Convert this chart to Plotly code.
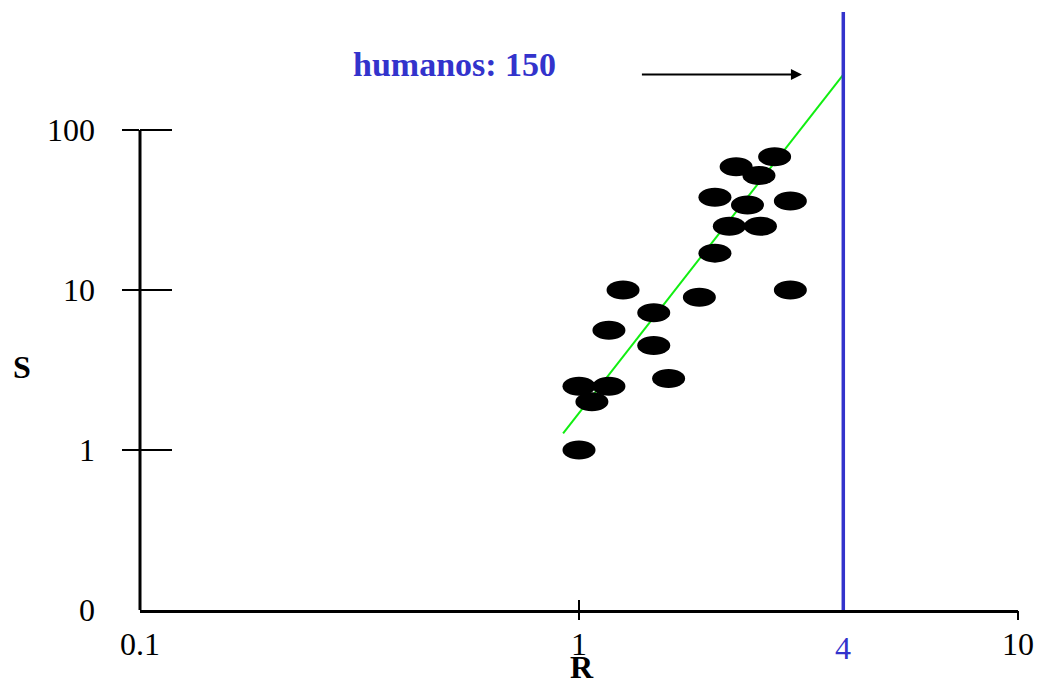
import math
import plotly.graph_objects as go

# ---- data ----
R = [2.79, 2.28, 2.57, 2.04, 2.42, 3.03, 2.20, 2.59, 2.04, 1.26,
     3.03, 1.88, 1.48, 1.17, 1.48, 1.60, 1.00, 1.17, 1.07, 1.00]
S = [68, 59, 52, 38, 34, 36, 25, 25, 17, 10,
     10, 9.0, 7.2, 5.6, 4.5, 2.8, 2.5, 2.5, 2.0, 1.0]

fit_R = [0.92, 4.0]
fit_S = [1.27, 222]

human_R = 4
human_label = "humanos: 150"
arrow_R = [1.38, 3.22]
arrow_S = 222

x_tickvals = [0.1, 1, 10]
x_ticktext = ["0.1", "1", "10"]
x_marks = [1, 10]
y_tickvals = [0.1, 1, 10, 100]
y_ticktext = ["0", "1", "10", "100"]
y_marks = [1, 10, 100]

X_RANGE = [-1, 1]
Y_RANGE = [-1, 2.7375]

# layout geometry (page pixels); the page body adds an 8 px margin all round
OFF = 8
PAGE_W, PAGE_H = 1042, 695
W, H = PAGE_W - 2 * OFF, PAGE_H - 2 * OFF
ML, MT = 140 - OFF, 12 - OFF
MR = (W + OFF) - 1018
MB = (H + OFF) - 610
PW, PH = W - ML - MR, H - MT - MB
DOT_W, DOT_H = 33, 19

FONT = "Liberation Serif"
BLUE = "#3333CC"
GREEN = "#11EE11"

fig = go.Figure()

# points (underlying markers)
fig.add_trace(go.Scatter(x=R, y=S, mode="markers",
                         marker=dict(color="black", size=14),
                         showlegend=False, hoverinfo="x+y"))
# regression line
fig.add_trace(go.Scatter(x=fit_R, y=fit_S, mode="lines",
                         line=dict(color=GREEN, width=2),
                         showlegend=False, hoverinfo="skip"))
# human group line
fig.add_trace(go.Scatter(x=[human_R, human_R],
                         y=[10 ** Y_RANGE[0], 10 ** Y_RANGE[1]],
                         mode="lines", line=dict(color=BLUE, width=3.5),
                         showlegend=False, hoverinfo="skip"))
# empty traces for the tick-only overlay axes
for xa, ya in [("x2", "y"), ("x3", "y"), ("x", "y2"), ("x", "y3")]:
    fig.add_trace(go.Scatter(x=[], y=[], xaxis=xa, yaxis=ya,
                             showlegend=False, hoverinfo="skip"))

# elliptical point marks: half-size expressed as a factor on the log axes
kx = 10 ** ((DOT_W / 2) * (X_RANGE[1] - X_RANGE[0]) / PW)
ky = 10 ** ((DOT_H / 2) * (Y_RANGE[1] - Y_RANGE[0]) / PH)
shapes = []
for r, s in zip(R, S):
    shapes.append(dict(type="circle", xref="x", yref="y",
                       x0=r / kx, x1=r * kx, y0=s / ky, y1=s * ky,
                       fillcolor="black", line=dict(width=0), layer="above"))
# y axis line up to the top tick
ytop = (math.log10(max(y_marks)) - Y_RANGE[0]) / (Y_RANGE[1] - Y_RANGE[0])
shapes.append(dict(type="line", xref="paper", yref="paper",
                   x0=0, x1=0, y0=0, y1=ytop,
                   line=dict(color="black", width=3), layer="above"))

tick_font = dict(family=FONT, size=32, color="black")
common = dict(showgrid=False, zeroline=False, automargin=False)

fig.update_layout(
    width=W, height=H,
    margin=dict(l=ML, r=MR, t=MT, b=MB, autoexpand=False),
    paper_bgcolor="white", plot_bgcolor="white",
    showlegend=False,
    shapes=shapes,
    xaxis=dict(type="log", range=X_RANGE, tickmode="array",
               tickvals=x_tickvals, ticktext=x_ticktext, ticks="",
               ticklabelstandoff=4,
               showline=True, linewidth=3, linecolor="black",
               tickfont=tick_font, **common),
    xaxis2=dict(type="log", range=X_RANGE, overlaying="x", anchor="y",
                side="bottom", tickmode="array", tickvals=x_marks,
                ticks="outside", ticklen=9, tickwidth=2, tickcolor="black",
                showticklabels=False, showline=False, **common),
    xaxis3=dict(type="log", range=X_RANGE, overlaying="x", anchor="y",
                side="bottom", tickmode="array", tickvals=x_marks,
                ticks="inside", ticklen=10, tickwidth=2, tickcolor="black",
                showticklabels=False, showline=False, **common),
    yaxis=dict(type="log", range=Y_RANGE, tickmode="array",
               tickvals=y_tickvals, ticktext=y_ticktext, ticks="",
               ticklabelstandoff=44, showline=False,
               tickfont=tick_font, **common),
    yaxis2=dict(type="log", range=Y_RANGE, overlaying="y", anchor="x",
                side="left", tickmode="array", tickvals=y_marks,
                ticks="outside", ticklen=17, tickwidth=2, tickcolor="black",
                showticklabels=False, showline=False, **common),
    yaxis3=dict(type="log", range=Y_RANGE, overlaying="y", anchor="x",
                side="left", tickmode="array", tickvals=y_marks,
                ticks="inside", ticklen=32, tickwidth=2, tickcolor="black",
                showticklabels=False, showline=False, **common),
)


def px_x(p):
    # page pixel -> paper fraction
    return (p - OFF - ML) / PW


def px_y(p):
    return (H - MB - (p - OFF)) / PH


annotations = [
    # arrow pointing to the human group size
    dict(x=math.log10(arrow_R[1]), y=math.log10(arrow_S), xref="x", yref="y",
         ax=math.log10(arrow_R[0]), ay=math.log10(arrow_S), axref="x", ayref="y",
         text="", showarrow=True, arrowhead=2, arrowsize=1.1,
         arrowwidth=2, arrowcolor="black"),
    dict(x=px_x(454), y=px_y(64), xref="paper", yref="paper",
         xanchor="center", yanchor="middle",
         text="<b>" + human_label + "</b>", showarrow=False,
         font=dict(family=FONT, size=34, color=BLUE)),
    dict(x=math.log10(human_R), y=px_y(648), xref="x", yref="paper",
         xanchor="center", yanchor="middle",
         text=str(human_R), showarrow=False,
         font=dict(family=FONT, size=32, color=BLUE)),
    dict(x=px_x(22), y=px_y(367), xref="paper", yref="paper",
         xanchor="center", yanchor="middle",
         text="<b>S</b>", showarrow=False,
         font=dict(family=FONT, size=32, color="black")),
    dict(x=px_x(582), y=px_y(H + OFF), xref="paper", yref="paper",
         xanchor="center", yanchor="bottom",
         text="<b>R</b>", showarrow=False,
         font=dict(family=FONT, size=32, color="black")),
]
fig.update_layout(annotations=annotations)

fig.write_html("out.html")
